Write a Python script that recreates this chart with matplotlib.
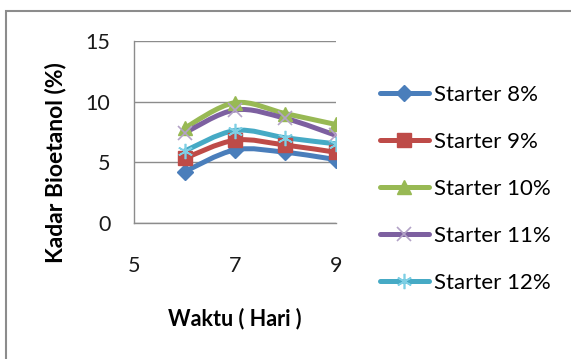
import numpy as np
import matplotlib
matplotlib.use("Agg")
import matplotlib.pyplot as plt
from matplotlib.path import Path
from matplotlib.patches import PathPatch, Rectangle
from matplotlib.lines import Line2D

plt.rcParams["font.family"] = ["Lato", "DejaVu Sans"]

# fermentation time (days) and ethanol content per starter dose
hari = [6, 7, 8, 9]
starter_8 = [4.2, 6.0, 5.8, 5.2]
starter_9 = [5.3, 6.8, 6.4, 5.8]
starter_10 = [7.8, 9.9, 9.0, 8.1]
starter_11 = [7.4, 9.3, 8.6, 7.2]
starter_12 = [5.9, 7.6, 7.0, 6.5]
labels = ["Starter 8%", "Starter 9%", "Starter 10%", "Starter 11%", "Starter 12%"]

series = [starter_8, starter_9, starter_10, starter_11, starter_12]
line_colors = ["#4A7EBB", "#BE4B48", "#98B954", "#7D60A0", "#46AAC5"]
marker_colors = ["#4A7EBB", "#BE4B48", "#98B954", "#B3A2C7", "#7ECFE4"]
markers = ["D", "s", "^", "x", (6, 2, 0)]
msizes = [8, 10, 10, 10, 11]
fs = 15.5


def smooth_path(x, y, t=1 / 6):
    # Catmull-Rom style bezier through the points (like a smoothed line)
    pts = np.column_stack([x, y]).astype(float)
    verts = [pts[0]]
    codes = [Path.MOVETO]
    n = len(pts)
    for i in range(n - 1):
        p0 = pts[i - 1] if i > 0 else pts[i]
        p1 = pts[i]
        p2 = pts[i + 1]
        p3 = pts[i + 2] if i + 2 < n else pts[i + 1]
        c1 = p1 + (p2 - p0) * t
        c2 = p2 - (p3 - p1) * t
        verts += [c1, c2, p2]
        codes += [Path.CURVE4] * 3
    return Path(verts, codes)


fig = plt.figure(figsize=(5.71, 3.59), dpi=100)
ax = fig.add_axes([0.2347, 0.3802, 0.3537, 0.5056])

for ys, lc, mc, m, ms in zip(series, line_colors, marker_colors, markers, msizes):
    ax.add_patch(PathPatch(smooth_path(hari, ys), fill=False, edgecolor=lc,
                           lw=3.6, capstyle="round", joinstyle="round", zorder=3))
    if m in ("x", (6, 2, 0)):
        ax.plot(hari, ys, ls="none", marker=m, ms=ms, mec=mc, mew=1.2, zorder=4)
    else:
        ax.plot(hari, ys, ls="none", marker=m, ms=ms, mfc=mc, mec=mc, zorder=4)

ax.set_xlim(5, 9)
ax.set_ylim(0, 15)
ax.set_xticks([5, 7, 9])
ax.set_yticks([0, 5, 10, 15])
ax.yaxis.grid(True, color="#8C8C8C", lw=1)
ax.set_axisbelow(True)
for s in ["top", "right"]:
    ax.spines[s].set_visible(False)
for s in ["left", "bottom"]:
    ax.spines[s].set_color("#8C8C8C")
    ax.spines[s].set_linewidth(1)
ax.tick_params(axis="both", length=0, labelsize=fs, colors="#1a1a1a")
ax.tick_params(axis="y", pad=17)
ax.tick_params(axis="x", pad=24)
for lab in ax.get_xticklabels() + ax.get_yticklabels():
    lab.set_clip_on(False)

ax.set_xlabel("Waktu ( Hari )", fontsize=fs, fontweight="bold", labelpad=23)
ax.set_ylabel("Kadar Bioetanol (%)", fontsize=16.5, fontweight="bold")
ax.yaxis.set_label_coords(-0.335, 0.33)

handles = []
for lc, mc, m, ms in zip(line_colors, marker_colors, markers, msizes):
    if m in ("x", (6, 2, 0)):
        h = Line2D([], [], color=lc, lw=3.6, marker=m, ms=ms, mec=mc, mew=1.2,
                   solid_capstyle="round")
    else:
        h = Line2D([], [], color=lc, lw=3.6, marker=m, ms=ms, mfc=mc, mec=mc,
                   solid_capstyle="round")
    handles.append(h)
fig.legend(handles, labels, loc="upper left", bbox_to_anchor=(0.6655, 0.764),
           frameon=False, fontsize=16, handlelength=2.2, handletextpad=0.25,
           labelspacing=1.22, borderpad=0, borderaxespad=0)

# outer chart border
fig.patches.append(Rectangle((6 / 571, -0.05), 1.1, 1 - 11 / 359 + 0.05,
                             transform=fig.transFigure, fill=False,
                             edgecolor="#8C8C8C", lw=1.5))

fig.savefig("out.png", dpi=100)
